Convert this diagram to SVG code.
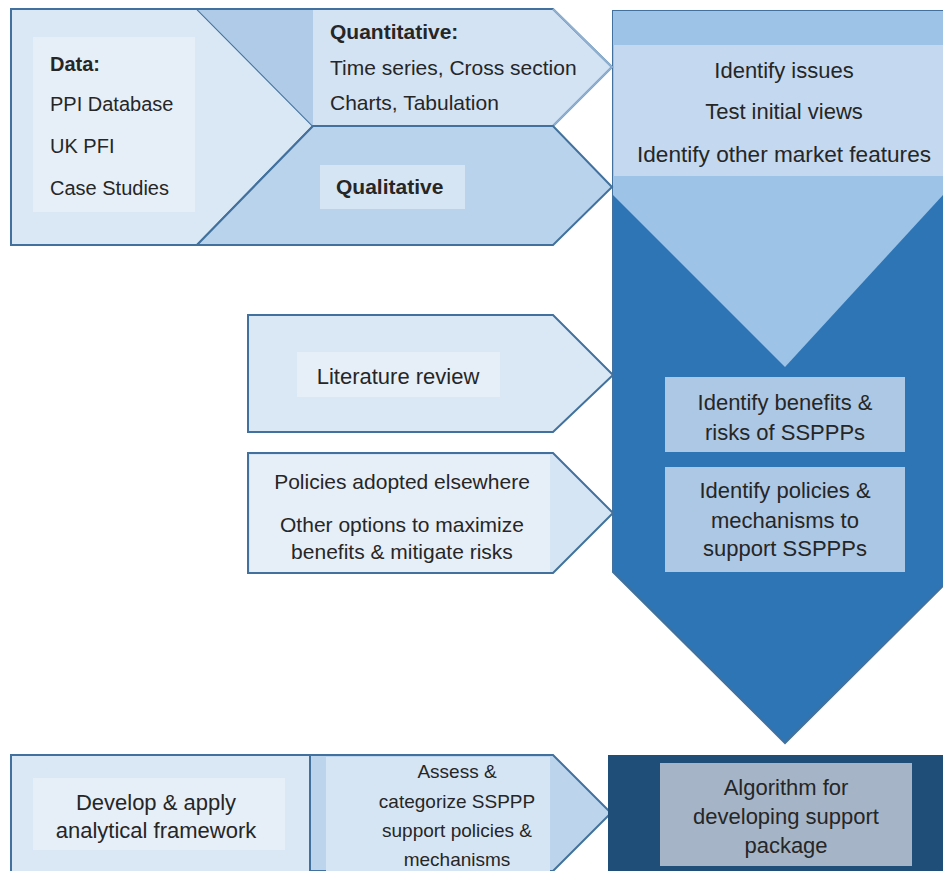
<svg xmlns="http://www.w3.org/2000/svg" width="943" height="871" viewBox="0 0 943 871">
<style>
.t{font-family:"Liberation Sans",Arial,sans-serif;font-size:21px;fill:#262626}
.b{font-weight:bold}
.c{text-anchor:middle}
.s20{font-size:20px}
.s22{font-size:22px}
.s19{font-size:19px}
.edge{stroke:#41719c;stroke-width:2;stroke-linejoin:miter}
</style>
<rect width="943" height="871" fill="#ffffff"/>
<g id="main-column">
  <polygon points="613,11 957,11 957,572 785,743 613,572" fill="#2e75b6" class="edge"/>
  <polygon points="613,11 943,11 943,195 785,367 613,195" fill="#9dc3e6"/>
  <polygon points="943,195 957,195 943,210" fill="#9dc3e6"/>
  <rect x="614" y="45" width="329" height="131" fill="#c4d9ef"/>
  <text class="t c s22" x="784" y="78">Identify issues</text>
  <text class="t c s22" x="784" y="119">Test initial views</text>
  <text class="t c s22" x="784" y="162" textLength="294" lengthAdjust="spacingAndGlyphs">Identify other market features</text>
</g>
<g id="benefits">
  <rect x="665" y="377" width="240" height="75" fill="#adc8e4"/>
  <text class="t c s22" x="785" y="410">Identify benefits &amp;</text>
  <text class="t c s22" x="785" y="440">risks of SSPPPs</text>
</g>
<g id="policies">
  <rect x="665" y="467" width="240" height="105" fill="#adc8e4"/>
  <text class="t c s22" x="785" y="498">Identify policies &amp;</text>
  <text class="t c s22" x="785" y="528">mechanisms to</text>
  <text class="t c s22" x="785" y="556">support SSPPPs</text>
</g>
<g id="data">
  <polygon points="11,9 197,9 313,126 197,245 11,245" fill="#dae7f4" class="edge"/>
  <rect x="33" y="37" width="162" height="175" fill="#e6eff8"/>
  <text class="t b s20" x="50" y="71">Data:</text>
  <text class="t s20" x="50" y="111">PPI Database</text>
  <text class="t s20" x="50" y="153">UK PFI</text>
  <text class="t s20" x="50" y="195">Case Studies</text>
</g>
<g id="quantitative">
  <polygon points="197,9 553,9 612,67 553,126 313,126" fill="#b0cbe7"/>
  <polygon points="313,10 553,10 611,67 553,125 313,125" fill="#d3e3f3"/>
  <polyline points="197,9 553,9 612,67 553,126 313,126" fill="none" class="edge"/>
  <polyline points="553,9 612,67 553,126" fill="none" stroke="#8fb0d0" stroke-width="2"/>
  <text class="t b" x="330" y="39">Quantitative:</text>
  <text class="t" x="330" y="75">Time series, Cross section</text>
  <text class="t" x="330" y="110">Charts, Tabulation</text>
</g>
<g id="qualitative">
  <polygon points="313,126 553,126 612,187 553,245 197,245" fill="#bad3ec" class="edge"/>
  <rect x="320" y="165" width="145" height="44" fill="#d6e5f4"/>
  <text class="t b" x="336" y="194">Qualitative</text>
</g>
<g id="literature">
  <polygon points="248,315 553,315 613,375 553,432 248,432" fill="#dae7f4" class="edge"/>
  <rect x="297" y="352" width="203" height="45" fill="#e6eff8"/>
  <text class="t c s22" x="398" y="384">Literature review</text>
</g>
<g id="elsewhere">
  <polygon points="248,453 553,453 613,513 553,573 248,573" fill="#d6e5f4" class="edge"/>
  <rect x="250" y="455" width="300" height="117" fill="#e6eff8"/>
  <text class="t c" x="402" y="489">Policies adopted elsewhere</text>
  <text class="t c" x="402" y="532">Other options to maximize</text>
  <text class="t c" x="402" y="559">benefits &amp; mitigate risks</text>
</g>
<g id="framework">
  <rect x="11" y="755" width="299" height="120" fill="#dae7f4" class="edge"/>
  <rect x="33" y="778" width="252" height="72" fill="#e6eff8"/>
  <text class="t c s22" x="156" y="810">Develop &amp; apply</text>
  <text class="t c s22" x="156" y="838">analytical framework</text>
</g>
<g id="assess">
  <polygon points="310,755 553,755 611,813 553,871 310,871" fill="#bcd4ec" class="edge"/>
  <rect x="326" y="757" width="224" height="114" fill="#d6e5f4"/>
  <text class="t c s19" x="457" y="778">Assess &amp;</text>
  <text class="t c s19" x="457" y="808">categorize SSPPP</text>
  <text class="t c s19" x="457" y="837">support policies &amp;</text>
  <text class="t c s19" x="457" y="866">mechanisms</text>
</g>
<g id="algorithm">
  <rect x="608" y="755" width="340" height="120" fill="#1f4e79"/>
  <rect x="660" y="763" width="252" height="103" fill="#a5b5c7"/>
  <text class="t c s22" x="786" y="795">Algorithm for</text>
  <text class="t c s22" x="786" y="824">developing support</text>
  <text class="t c s22" x="786" y="853">package</text>
</g>
<g id="connectors"></g>
</svg>
